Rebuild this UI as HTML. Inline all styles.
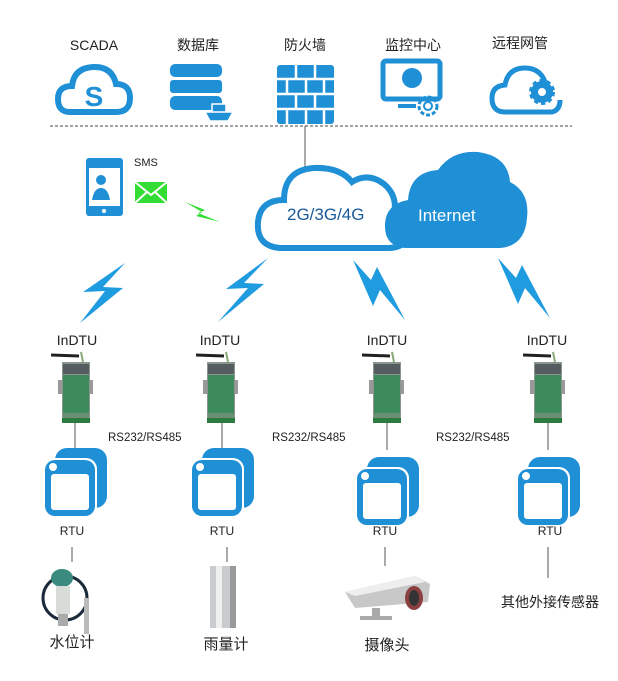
<!DOCTYPE html>
<html><head><meta charset="utf-8"><style>
html,body{margin:0;padding:0;background:#fff;}
svg{display:block;}
text{font-family:"Liberation Sans","Noto Sans CJK SC",sans-serif;fill:#222;}
</style></head><body>
<svg width="618" height="681" viewBox="0 0 618 681" xmlns="http://www.w3.org/2000/svg">
<defs>
<g id="dtu">
  <line x1="-25" y1="-5" x2="3" y2="-4" stroke="#222" stroke-width="3"/>
  <line x1="5" y1="-8" x2="7" y2="2" stroke="#8a7" stroke-width="2"/>
  <rect x="-18" y="20" width="4" height="14" fill="#999"/>
  <rect x="13" y="20" width="4" height="14" fill="#999"/>
  <rect x="-14" y="2" width="28" height="60" fill="#8a9590"/>
  <rect x="-13" y="4" width="26" height="10" fill="#555d60"/>
  <rect x="-13" y="15" width="26" height="38" fill="#3d8a5a"/>
  <rect x="-13" y="53" width="26" height="5" fill="#6a8f75"/>
  <rect x="-14" y="58" width="28" height="5" fill="#2b7a3e"/>
</g>
<g id="rtu">
  <rect x="-20" y="0" width="52" height="60" rx="12" fill="#1f8fd6"/>
  <rect x="-32" y="10" width="54" height="60" rx="11" fill="#fff"/>
  <rect x="-30" y="12" width="50" height="56" rx="10" fill="#1f8fd6"/>
  <rect x="-24" y="26" width="38" height="36" rx="3" fill="#fff"/>
  <circle cx="-22" cy="19" r="4" fill="#fff"/>
</g>
</defs>

<text x="94" y="50" font-size="14" text-anchor="middle">SCADA</text>
<text x="198" y="50" font-size="14" text-anchor="middle">数据库</text>
<text x="305" y="50" font-size="14" text-anchor="middle">防火墙</text>
<text x="413" y="50" font-size="14" text-anchor="middle">监控中心</text>
<text x="520" y="48" font-size="14" text-anchor="middle">远程网管</text>

<path d="M70 112 Q58 112 58 99 Q58 86 72 86 Q74 68 93 67 Q112 66 116 84 Q130 84 130 98 Q130 112 116 112 Z" fill="none" stroke="#1f8fd6" stroke-width="6"/>
<text x="94" y="106" font-size="28" font-weight="bold" text-anchor="middle" style="fill:#1f8fd6">S</text>
<rect x="170" y="64" width="52" height="13" rx="5" fill="#1f8fd6"/>
<rect x="170" y="80" width="52" height="13" rx="3" fill="#1f8fd6"/>
<rect x="170" y="96" width="52" height="14" rx="5" fill="#1f8fd6"/>
<path d="M205 112 L233 112 L228 121 L210 121 Z M212 104 h14 v8 h-14z" fill="#1f8fd6" stroke="#fff" stroke-width="1.5"/>
<rect x="277" y="65" width="57" height="59" rx="3" fill="#1f8fd6"/>
<g stroke="#fff" stroke-width="2.5">
<line x1="277" y1="79" x2="334" y2="79"/><line x1="277" y1="94" x2="334" y2="94"/><line x1="277" y1="109" x2="334" y2="109"/>
<line x1="296" y1="65" x2="296" y2="79"/><line x1="315" y1="65" x2="315" y2="79"/>
<line x1="287" y1="79" x2="287" y2="94"/><line x1="306" y1="79" x2="306" y2="94"/><line x1="324" y1="79" x2="324" y2="94"/>
<line x1="296" y1="94" x2="296" y2="109"/><line x1="315" y1="94" x2="315" y2="109"/>
<line x1="287" y1="109" x2="287" y2="124"/><line x1="306" y1="109" x2="306" y2="124"/><line x1="324" y1="109" x2="324" y2="124"/>
</g>
<rect x="383" y="61" width="57" height="38" rx="3" fill="none" stroke="#1f8fd6" stroke-width="5"/>
<circle cx="412" cy="78" r="10" fill="#1f8fd6"/>
<line x1="398" y1="106" x2="416" y2="106" stroke="#1f8fd6" stroke-width="4"/>
<circle cx="428" cy="106" r="9" fill="none" stroke="#1f8fd6" stroke-width="3" stroke-dasharray="4 2"/>
<circle cx="428" cy="106" r="4" fill="none" stroke="#1f8fd6" stroke-width="2"/>
<path d="M505 112 Q492 112 492 98 Q492 86 505 85 Q508 68 525 68 Q540 68 545 82" fill="none" stroke="#1f8fd6" stroke-width="5"/>
<path d="M505 112 L552 112 Q560 110 560 100" fill="none" stroke="#1f8fd6" stroke-width="5"/>
<circle cx="542" cy="92" r="11" fill="#1f8fd6" stroke="#1f8fd6" stroke-width="4" stroke-dasharray="4 3"/>
<circle cx="542" cy="92" r="4" fill="#fff"/>

<line x1="50" y1="126" x2="572" y2="126" stroke="#444" stroke-width="1" stroke-dasharray="3 2"/>
<line x1="305" y1="126" x2="305" y2="168" stroke="#555" stroke-width="1"/>

<rect x="86" y="158" width="37" height="58" rx="3" fill="#1f8fd6"/>
<rect x="89" y="168" width="31" height="38" fill="#fff"/>
<circle cx="101" cy="180" r="5" fill="#1f8fd6"/>
<path d="M92 200 Q94 188 101 188 Q108 188 110 200Z" fill="#1f8fd6"/>
<circle cx="104" cy="211" r="2" fill="#fff"/>
<text x="134" y="166" font-size="11">SMS</text>
<rect x="135" y="182" width="32" height="21" fill="#33dd33"/>
<path d="M135 182 L151 195 L167 182 M135 203 L147 192 M167 203 L155 192" fill="none" stroke="#fff" stroke-width="2"/>
<polygon points="185,202 205,210 198,213 220,222 196,216 202,212" fill="#33dd33"/>

<path d="M280 248 Q256 246 258 222 Q260 200 284 200 Q284 170 314 168 Q340 167 352 182 Q368 172 384 184 Q398 196 394 214 Q412 222 408 236 Q404 248 388 248 Z" fill="#fff" stroke="#1f8fd6" stroke-width="6"/>
<text x="287" y="220" font-size="17" style="fill:#1a5a9a">2G/3G/4G</text>
<path d="M405 248 Q384 246 385 224 Q386 204 408 200 Q410 172 438 170 Q452 150 478 152 Q508 156 510 182 Q530 192 527 218 Q525 246 500 248 Z" fill="#1f8fd6"/>
<text x="418" y="221" font-size="17" style="fill:#fff">Internet</text>

<g fill="#1f9be0">
<polygon points="125,263 83,292 105,291 80,323 123,288 103,287"/>
<polygon points="268,258 226,289 248,288 218,322 264,284 244,283"/>
<polygon points="353,260 371,280 377,267 405,320 380,290 373,306"/>
<polygon points="498,258 516,278 522,265 550,318 525,288 518,304"/>
</g>

<text x="77" y="345" font-size="14" text-anchor="middle">InDTU</text>
<text x="220" y="345" font-size="14" text-anchor="middle">InDTU</text>
<text x="387" y="345" font-size="14" text-anchor="middle">InDTU</text>
<text x="547" y="345" font-size="14" text-anchor="middle">InDTU</text>
<use href="#dtu" x="76" y="360"/>
<use href="#dtu" x="221" y="360"/>
<use href="#dtu" x="387" y="360"/>
<use href="#dtu" x="548" y="360"/>
<g stroke="#555" stroke-width="1">
<line x1="75" y1="423" x2="75" y2="450"/><line x1="222" y1="423" x2="222" y2="450"/>
<line x1="387" y1="423" x2="387" y2="450"/><line x1="548" y1="423" x2="548" y2="450"/>
<line x1="72" y1="547" x2="72" y2="562"/><line x1="227" y1="547" x2="227" y2="562"/>
<line x1="385" y1="547" x2="385" y2="566"/><line x1="548" y1="547" x2="548" y2="578"/>
</g>
<text x="108" y="441" font-size="11.5">RS232/RS485</text>
<text x="272" y="441" font-size="11.5">RS232/RS485</text>
<text x="436" y="441" font-size="11.5">RS232/RS485</text>
<use href="#rtu" x="75" y="448"/>
<use href="#rtu" x="222" y="448"/>
<use href="#rtu" x="387" y="457"/>
<use href="#rtu" x="548" y="457"/>
<text x="72" y="535" font-size="12" text-anchor="middle">RTU</text>
<text x="222" y="535" font-size="12" text-anchor="middle">RTU</text>
<text x="385" y="535" font-size="12" text-anchor="middle">RTU</text>
<text x="550" y="535" font-size="12" text-anchor="middle">RTU</text>

<circle cx="65" cy="598" r="22" fill="none" stroke="#1a2a3a" stroke-width="3"/>
<ellipse cx="62" cy="578" rx="11" ry="9" fill="#3a8a80"/>
<rect x="56" y="586" width="14" height="28" fill="#d8dcd8"/>
<rect x="58" y="614" width="10" height="12" fill="#aaa"/>
<rect x="84" y="598" width="5" height="36" fill="#bbb"/>
<text x="72" y="647" font-size="15" text-anchor="middle">水位计</text>

<rect x="210" y="566" width="26" height="62" fill="#c8ccce"/>
<rect x="216" y="566" width="6" height="62" fill="#eef0f0"/>
<rect x="230" y="566" width="6" height="62" fill="#999"/>
<text x="226" y="649" font-size="15" text-anchor="middle">雨量计</text>

<path d="M345 592 L415 576 L430 584 L428 602 L355 608 Z" fill="#c8c8c8"/>
<path d="M345 592 L415 576 L425 582 L355 596 Z" fill="#eee"/>
<ellipse cx="414" cy="598" rx="9" ry="12" fill="#8a4040"/>
<ellipse cx="414" cy="598" rx="5" ry="8" fill="#333"/>
<rect x="372" y="608" width="8" height="8" fill="#aaa"/>
<rect x="360" y="616" width="32" height="4" fill="#aaa"/>
<text x="387" y="650" font-size="15" text-anchor="middle">摄像头</text>

<text x="550" y="607" font-size="14" text-anchor="middle">其他外接传感器</text>
</svg>
</body></html>
